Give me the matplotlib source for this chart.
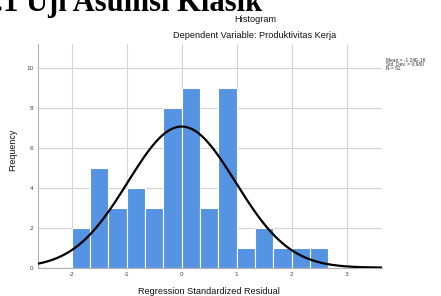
import numpy as np
import matplotlib.pyplot as plt

# histogram counts (bin width 1/3, starting at -2)
bin_start = -2.0
bin_width = 1.0 / 3.0
counts = [2, 5, 3, 4, 3, 8, 9, 3, 9, 1, 2, 1, 1, 1]
mean = -1.24e-16
std_dev = 0.980
n = 52

x_ticks = [-2, -1, 0, 1, 2, 3]
y_ticks = [0, 2, 4, 6, 8, 10]
legend_lines = ['Mean = -1.24E-16', 'Std. Dev. = 0.980', 'N = 52']

bar_color = '#5593e3'
grid_color = '#d4d4d4'
text_color = '#111111'

fig = plt.figure(figsize=(4.41, 2.96), dpi=100)
fig.patch.set_facecolor('white')

ax = fig.add_axes([37.7 / 441, (296 - 267.7) / 296, 344 / 441, (267.7 - 44) / 296])

edges = bin_start + bin_width * np.arange(len(counts))
ax.bar(edges, counts, width=bin_width, align='edge', color=bar_color,
       edgecolor='white', linewidth=0.8, zorder=2)

# fitted normal curve
xlim = (-2.62, 3.64)
xs = np.linspace(xlim[0], xlim[1], 400)
ys = n * bin_width * np.exp(-0.5 * ((xs - mean) / std_dev) ** 2) / (std_dev * np.sqrt(2 * np.pi))
ax.plot(xs, ys, color='black', lw=1.6, zorder=3)

ax.set_xlim(*xlim)
ax.set_ylim(0, 11.18)
ax.set_xticks(x_ticks)
ax.set_yticks(y_ticks)
ax.set_xticklabels([str(t) for t in x_ticks])
ax.set_yticklabels([str(t) for t in y_ticks])
ax.tick_params(length=0, labelsize=4.2, colors='#444444', pad=3)
ax.grid(True, color=grid_color, lw=0.8, zorder=0)
ax.set_axisbelow(True)
for s in ['top', 'right']:
    ax.spines[s].set_visible(False)
for s in ['left', 'bottom']:
    ax.spines[s].set_color('#b0b0b0')
    ax.spines[s].set_linewidth(0.8)

fig.text(13 / 441, 1 - 150 / 296, 'Frequency', fontsize=6.4, color=text_color,
         family='Liberation Sans', rotation=90, ha='center', va='center')
fig.text(209 / 441, 1 - 292 / 296, 'Regression Standardized Residual', fontsize=6.6,
         color=text_color, family='Liberation Sans', ha='center', va='center')

fig.text(255 / 441, 1 - 19 / 296, 'Histogram', fontsize=6.6, color=text_color,
         family='Liberation Sans', ha='center', va='center')
fig.text(255 / 441, 1 - 35 / 296, 'Dependent Variable: Produktivitas Kerja', fontsize=6.6,
         color=text_color, family='Liberation Sans', ha='center', va='center')

for i, line in enumerate(legend_lines):
    fig.text(386 / 441, 1 - (60 + 4.3 * i) / 296, line, fontsize=3.5, color='#333333',
             family='Liberation Sans', ha='left', va='center')

# heading of the document, cut at the top
fig.text(262 / 441, 1 - 10.5 / 296, '4.1 Uji Asumsi Klasik', fontsize=22, fontweight='bold',
         family='Liberation Serif', ha='right', va='baseline', color='black')

fig.savefig('out.png', dpi=100)
